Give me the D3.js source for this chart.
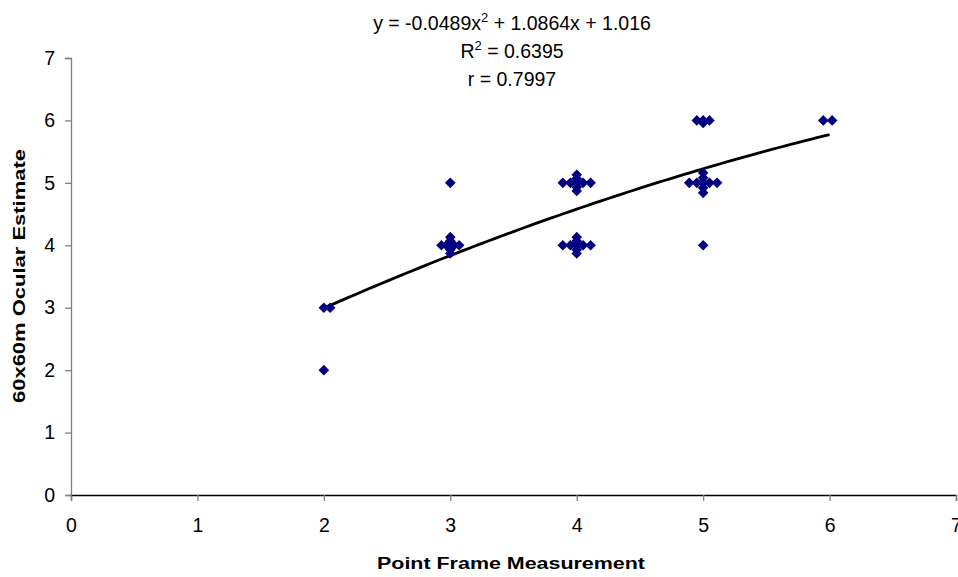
<!DOCTYPE html>
<html><head><meta charset="utf-8">
<script src="https://cdn.jsdelivr.net/npm/d3@7"></script>
<style>body{margin:0;background:#fff;} svg{display:block;font-family:"Liberation Sans",Arial,sans-serif;}</style>
</head><body>
<svg id="chart" width="958" height="577"></svg>
<script>
const xTicks = [0,1,2,3,4,5,6,7];
const yTicks = [0,1,2,3,4,5,6,7];
const xValues = [2,2.05,2,
  3,2.93,2.97,3,3.03,3.07,3,3,3,3,
  3.89,3.95,4,4.05,4.11,4,4,4,4,
  3.89,3.95,4,4.05,4.11,4,4,4,4,
  4.95,5,5.05,5,
  4.89,4.95,5,5.05,5.11,5,5,5,5,
  5,5.95,6.02];
const yValues = [3,3,2,
  5,4,4,4,4,4,3.87,3.93,4.07,4.13,
  5,5,5,5,5,4.87,4.93,5.07,5.13,
  4,4,4,4,4,3.87,3.93,4.07,4.13,
  6,6,6,5.96,
  5,5,5,5,5,4.84,4.92,5.08,5.16,
  4,6,6];
const trendCoef = [-0.0489, 1.0864, 1.016];
const trendRange = [2, 6];
const eqLines = ["y = -0.0489x", "R", "r = 0.7997"];

const svg = d3.select("#chart");
const x = d3.scaleLinear().domain([0,7]).range([71,956]);
const y = d3.scaleLinear().domain([0,7]).range([495,58]);

// axes
const yAx = svg.append("g").attr("transform","translate(71,0)")
  .call(d3.axisLeft(y).tickValues(yTicks).tickSize(6).tickPadding(10).tickFormat(d3.format("d")));
yAx.select(".domain").attr("stroke","#808080").attr("stroke-width",1.3);
yAx.selectAll(".tick line").attr("stroke","#808080").attr("stroke-width",1.3);
yAx.selectAll("text").attr("font-size",19.5).attr("fill","#000").attr("font-family","Liberation Sans, Arial, sans-serif");

const xAx = svg.append("g").attr("transform","translate(0,495)")
  .call(d3.axisBottom(x).tickValues(xTicks).tickSize(6).tickPadding(17).tickFormat(d3.format("d")));
xAx.select(".domain").attr("stroke","#000").attr("stroke-width",1.3);
xAx.selectAll(".tick line").attr("stroke","#808080").attr("stroke-width",1.3);
xAx.selectAll("text").attr("font-size",19.5).attr("fill","#000").attr("font-family","Liberation Sans, Arial, sans-serif");

// trendline
const tData = d3.range(trendRange[0], trendRange[1]+0.0001, 0.05);
const f = v => trendCoef[0]*v*v + trendCoef[1]*v + trendCoef[2];
svg.append("path").datum(tData)
  .attr("d", d3.line().x(d=>x(d)).y(d=>y(f(d))))
  .attr("fill","none").attr("stroke","#000").attr("stroke-width",2.8);

// points
const sym = d3.symbol().type(d3.symbolDiamond2).size(72);
svg.append("g").selectAll("path").data(xValues.map((v,i)=>[v,yValues[i]])).join("path")
  .attr("d", sym).attr("transform", d=>`translate(${x(d[0])},${y(d[1])})`)
  .attr("fill","#000080");

// equation text
const eq = svg.append("g").attr("font-size",19.5).attr("fill","#000").attr("text-anchor","middle");
const t1 = eq.append("text").attr("x",512).attr("y",30);
t1.append("tspan").text(eqLines[0]);
t1.append("tspan").attr("dy",-8).attr("font-size",13).text("2");
t1.append("tspan").attr("dy",8).text(" + 1.0864x + 1.016");
const t2 = eq.append("text").attr("x",512).attr("y",58);
t2.append("tspan").text(eqLines[1]);
t2.append("tspan").attr("dy",-8).attr("font-size",13).text("2");
t2.append("tspan").attr("dy",8).text(" = 0.6395");
eq.append("text").attr("x",512).attr("y",86).text(eqLines[2]);

// axis titles
svg.append("text").attr("x",511).attr("y",569).attr("text-anchor","middle")
  .attr("font-size",16).attr("font-weight","bold")
  .attr("textLength",268).attr("lengthAdjust","spacingAndGlyphs").text("Point Frame Measurement");
svg.append("text").attr("transform","translate(25,276) rotate(-90)").attr("text-anchor","middle")
  .attr("font-size",16).attr("font-weight","bold")
  .attr("textLength",254).attr("lengthAdjust","spacingAndGlyphs").text("60x60m Ocular Estimate");
</script>
</body></html>
